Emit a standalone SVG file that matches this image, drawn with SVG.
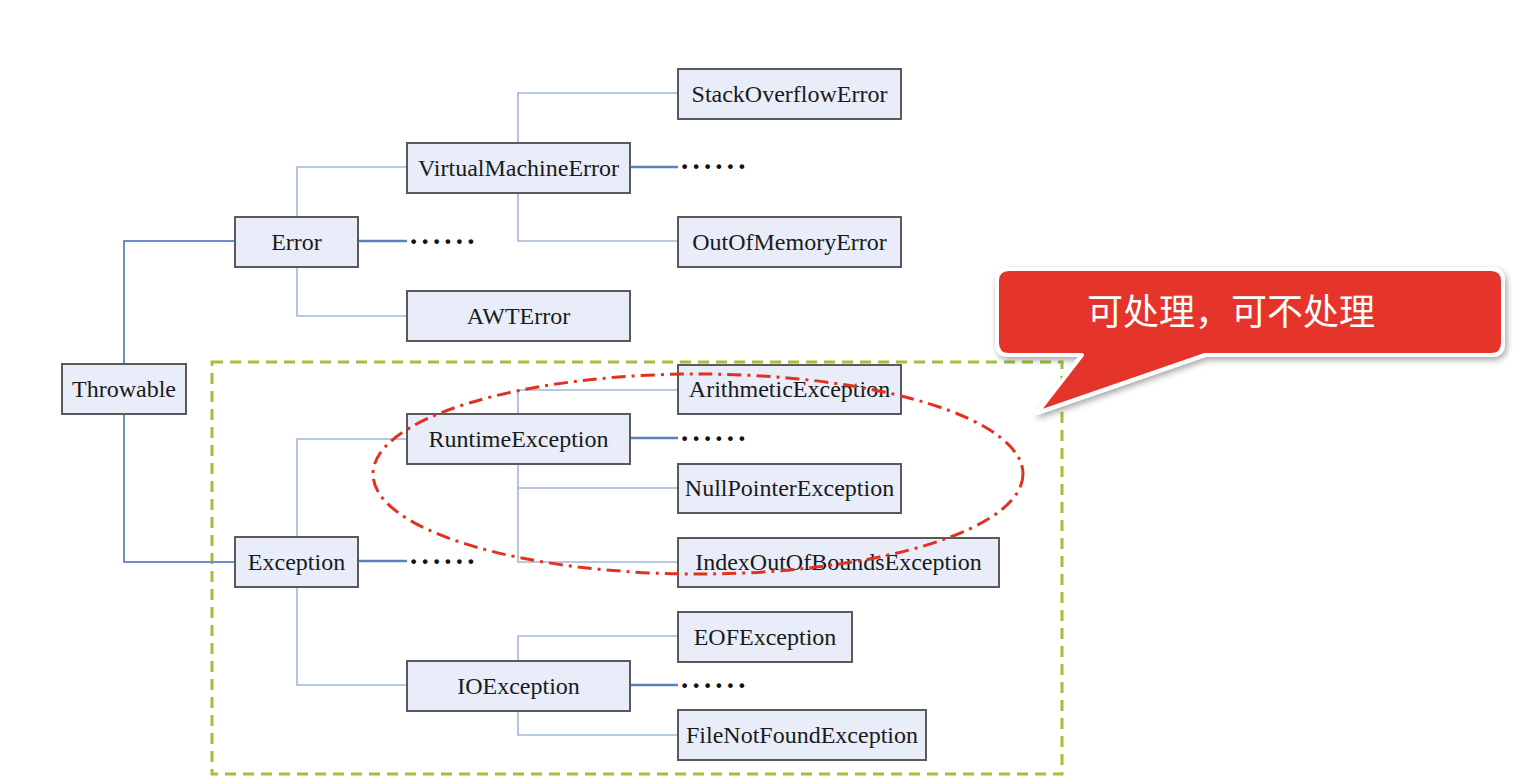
<svg xmlns="http://www.w3.org/2000/svg" width="1531" height="784" viewBox="0 0 1531 784">
<defs>
<style>
.box{fill:#e9edf9;stroke:#5a5a5a;stroke-width:2}
.lbl{font-family:"Liberation Serif","Times New Roman",serif;font-size:24px;fill:#1a1a1a;text-anchor:middle}
.main{fill:none;stroke:#6d8fc8;stroke-width:2}
.sub{fill:none;stroke:#a2b6db;stroke-width:1.6}
.more{fill:none;stroke:#5b80bd;stroke-width:2.6}
.dots{font-family:"Liberation Serif","Times New Roman",serif;font-size:29px;font-weight:bold;fill:#111;letter-spacing:4.2px}
</style>
<filter id="sh" x="-10%" y="-20%" width="125%" height="160%">
<feDropShadow dx="2" dy="3" stdDeviation="3" flood-color="#000" flood-opacity="0.35"/>
</filter>
</defs>
<rect width="1531" height="784" fill="#ffffff"/>

<rect id="checked-region" x="212" y="362" width="850" height="412" fill="none" stroke="#a1c13a" stroke-width="3" stroke-dasharray="11 7"/>

<g id="connectors">
<path class="main" d="M124,364 V241 H235"/>
<path class="main" d="M124,414 V562 H235"/>
<path class="sub" d="M297,217 V167 H407"/>
<path class="sub" d="M297,267 V316 H407"/>
<path class="more" d="M358,241 H407"/>
<path class="sub" d="M518,143 V93 H678"/>
<path class="sub" d="M518,193 V241 H678"/>
<path class="more" d="M630,167 H678"/>
<path class="sub" d="M297,537 V439 H407"/>
<path class="sub" d="M297,587 V685 H407"/>
<path class="more" d="M358,561 H407"/>
<path class="sub" d="M518,414 V390 H678"/>
<path class="sub" d="M518,464 V562 H678"/>
<path class="sub" d="M518,488 H678"/>
<path class="more" d="M630,438 H678"/>
<path class="sub" d="M518,661 V636 H678"/>
<path class="sub" d="M518,711 V735 H678"/>
<path class="more" d="M630,685 H678"/>
<text class="dots" x="410" y="244">......</text>
<text class="dots" x="681" y="169">......</text>
<text class="dots" x="410" y="564">......</text>
<text class="dots" x="681" y="441">......</text>
<text class="dots" x="681" y="688">......</text>
</g>

<g id="Throwable"><rect class="box" x="62" y="364" width="124" height="50"/><text class="lbl" x="124" y="397">Throwable</text></g>
<g id="Error"><rect class="box" x="235" y="217" width="123" height="50"/><text class="lbl" x="296.5" y="250">Error</text></g>
<g id="VirtualMachineError"><rect class="box" x="407" y="143" width="223" height="50"/><text class="lbl" x="518.5" y="176">VirtualMachineError</text></g>
<g id="StackOverflowError"><rect class="box" x="678" y="69" width="223" height="50"/><text class="lbl" x="789.5" y="102">StackOverflowError</text></g>
<g id="OutOfMemoryError"><rect class="box" x="678" y="217" width="223" height="50"/><text class="lbl" x="789.5" y="250">OutOfMemoryError</text></g>
<g id="AWTError"><rect class="box" x="407" y="291" width="223" height="50"/><text class="lbl" x="518.5" y="324">AWTError</text></g>
<g id="Exception"><rect class="box" x="235" y="537" width="123" height="50"/><text class="lbl" x="296.5" y="570">Exception</text></g>
<g id="RuntimeException"><rect class="box" x="407" y="414" width="223" height="50"/><text class="lbl" x="518.5" y="447">RuntimeException</text></g>
<g id="ArithmeticException"><rect class="box" x="678" y="365" width="223" height="49"/><text class="lbl" x="789.5" y="397">ArithmeticException</text></g>
<g id="NullPointerException"><rect class="box" x="678" y="464" width="223" height="49"/><text class="lbl" x="789.5" y="496">NullPointerException</text></g>
<g id="IndexOutOfBoundsException"><rect class="box" x="678" y="538" width="321" height="49"/><text class="lbl" x="838.5" y="570">IndexOutOfBoundsException</text></g>
<g id="IOException"><rect class="box" x="407" y="661" width="223" height="50"/><text class="lbl" x="518.5" y="694">IOException</text></g>
<g id="EOFException"><rect class="box" x="678" y="612" width="174" height="50"/><text class="lbl" x="765" y="645">EOFException</text></g>
<g id="FileNotFoundException"><rect class="box" x="678" y="710" width="248" height="50"/><text class="lbl" x="802" y="743">FileNotFoundException</text></g>

<ellipse id="highlight" cx="698" cy="474" rx="325" ry="100" fill="none" stroke="#e0321f" stroke-width="3" stroke-dasharray="14 6 3 6"/>

<g id="callout">
<path d="M1009,269 H1491 Q1503,269 1503,281 V343 Q1503,355 1491,355 H1205 L1037,413 L1082,355 H1009 Q997,355 997,343 V281 Q997,269 1009,269 Z" fill="#e5352a" stroke="#ffffff" stroke-width="4" stroke-linejoin="round" filter="url(#sh)"/>
<text x="1231" y="325" text-anchor="middle" font-family="'Noto Sans CJK SC','Microsoft YaHei',sans-serif" font-size="36" fill="#ffffff">可处理，可不处理</text>
</g>
</svg>
